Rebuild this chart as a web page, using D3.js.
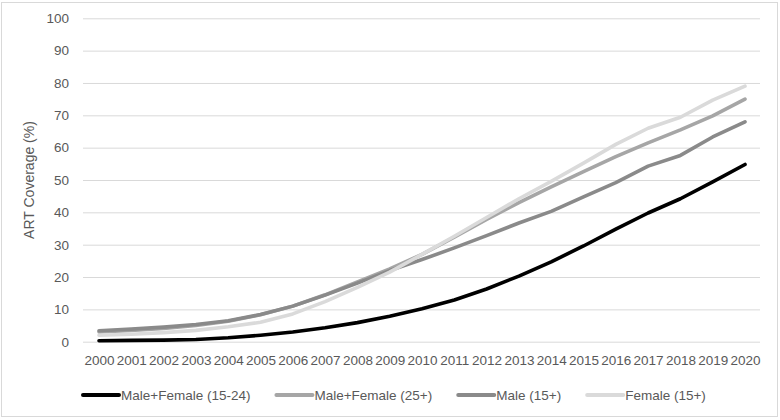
<!DOCTYPE html>
<html>
<head>
<meta charset="utf-8">
<script src="https://cdn.jsdelivr.net/npm/d3@7"></script>
<style>
  html, body { margin: 0; padding: 0; background: #fff; }
  svg { display: block; font-family: "Liberation Sans", Arial, sans-serif; }
</style>
</head>
<body>
<svg id="chart" width="780" height="420"></svg>
<script>
const years = ["2000","2001","2002","2003","2004","2005","2006","2007","2008","2009","2010",
               "2011","2012","2013","2014","2015","2016","2017","2018","2019","2020"];
const yTicks = [0,10,20,30,40,50,60,70,80,90,100];
const seriesNames = ["Male+Female (15-24)", "Male+Female (25+)", "Male (15+)", "Female (15+)"];
const mf1524 = [0.3,0.4,0.5,0.7,1.2,2.0,3.0,4.3,5.9,7.9,10.2,12.9,16.3,20.3,24.7,29.6,34.8,39.8,44.2,49.4,54.8];
const mf25   = [3.0,3.5,4.1,5.0,6.3,8.3,11.0,14.5,18.5,22.5,27.0,32.3,37.8,43.0,47.9,52.6,57.2,61.5,65.5,69.8,75.0];
const male15 = [3.4,3.9,4.5,5.3,6.5,8.4,11.0,14.4,18.1,22.0,25.4,29.0,32.8,36.7,40.3,44.8,49.2,54.3,57.6,63.3,68.0];
const fem15  = [2.0,2.3,2.8,3.5,4.6,6.0,8.6,12.4,16.8,21.5,27.0,32.6,38.4,44.2,49.6,55.2,61.0,66.0,69.4,74.7,79.0];
const seriesValues = [mf1524, mf25, male15, fem15];
const colors = ["#000000", "#a6a6a6", "#8a8a8a", "#dadada"];

const svg = d3.select("#chart");
const textColor = "#595959";

// outer border
svg.append("rect").attr("x", 1.5).attr("y", 2.5).attr("width", 776).attr("height", 414)
  .attr("fill", "#fff").attr("stroke", "#d9d9d9").attr("stroke-width", 1);

const x = d3.scalePoint().domain(years).range([99, 745]);
const y = d3.scaleLinear().domain([0, 100]).range([341.7, 18.3]);
const plotLeft = 83, plotRight = 760;

// gridlines + y tick labels
const yAxis = svg.append("g").attr("transform", `translate(${plotLeft},0)`)
  .call(d3.axisLeft(y).tickValues(yTicks).tickSize(-(plotRight - plotLeft)).tickPadding(14));
yAxis.select(".domain").remove();
yAxis.selectAll(".tick line").attr("stroke", "#d9d9d9").attr("stroke-width", 1);
yAxis.selectAll(".tick text").attr("fill", textColor).attr("font-size", 13.5)
  .attr("font-family", "Liberation Sans, Arial, sans-serif");

// x labels
const xAxis = svg.append("g").attr("transform", `translate(0,${y(0)})`)
  .call(d3.axisBottom(x).tickSize(0).tickPadding(14));
xAxis.select(".domain").remove();
xAxis.selectAll(".tick text").attr("fill", textColor).attr("font-size", 13.5)
  .attr("font-family", "Liberation Sans, Arial, sans-serif");

// y axis title
svg.append("text")
  .attr("transform", `translate(34,${(y(0) + y(100)) / 2}) rotate(-90)`)
  .attr("text-anchor", "middle").attr("fill", textColor).attr("font-size", 14)
  .text("ART Coverage (%)");

// lines
const line = d3.line().x((d, i) => x(years[i])).y(d => y(d)).curve(d3.curveLinear);
seriesValues.forEach((vals, k) => {
  svg.append("path").datum(vals)
    .attr("fill", "none").attr("stroke", colors[k]).attr("stroke-width", 3.6)
    .attr("stroke-linejoin", "round").attr("stroke-linecap", "round")
    .attr("d", line);
});

// legend
const legendY = 395;
let lx = 83;
seriesNames.forEach((name, k) => {
  const g = svg.append("g");
  g.append("line").attr("x1", lx).attr("x2", lx + 36).attr("y1", legendY).attr("y2", legendY)
    .attr("stroke", colors[k]).attr("stroke-width", 4).attr("stroke-linecap", "round");
  const t = g.append("text").attr("x", lx + 38).attr("y", legendY).attr("dy", "0.35em")
    .attr("fill", textColor).attr("font-size", 13.5).text(name);
  const w = t.node().getComputedTextLength();
  lx = lx + 38 + w + 26;
});
</script>
</body>
</html>
